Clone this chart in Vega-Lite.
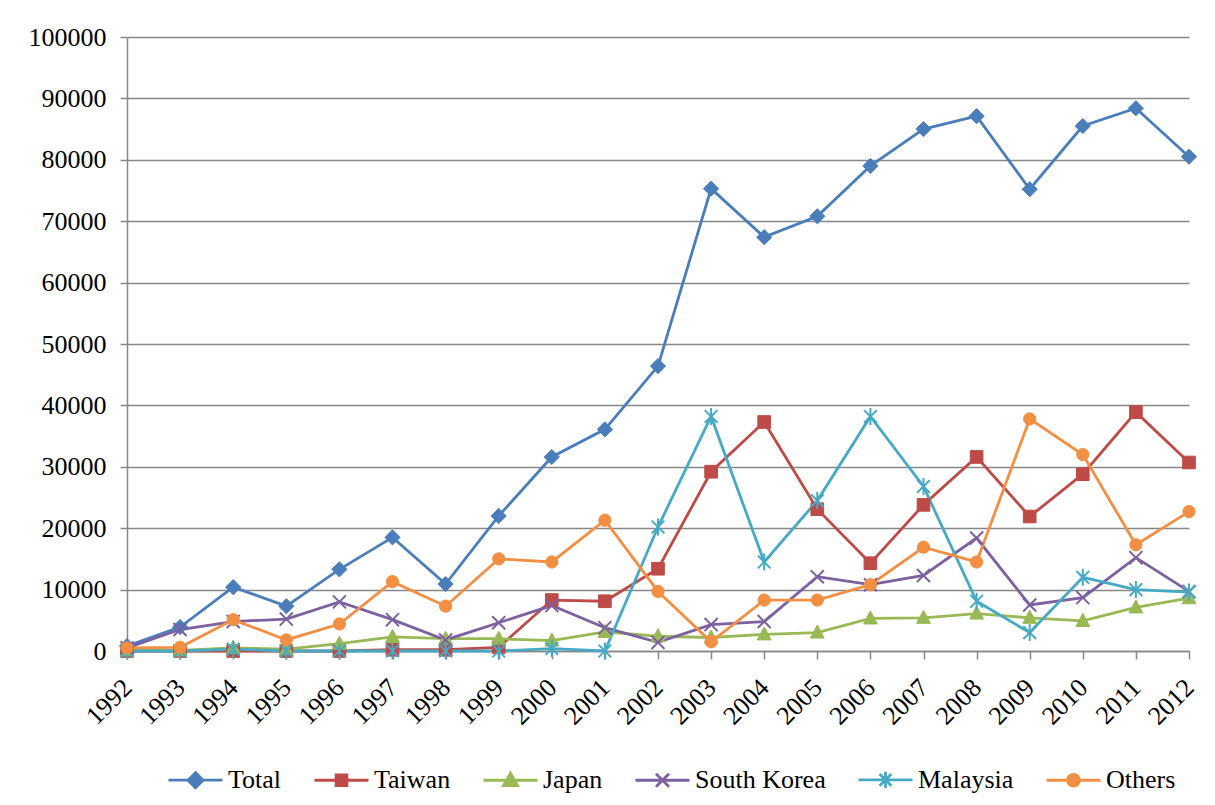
{
  "$schema": "https://vega.github.io/schema/vega-lite/v6.json",
  "width": 1062,
  "height": 614,
  "autosize": {"type": "none"},
  "padding": {"left": 127, "top": 37, "right": 26, "bottom": 154},
  "background": "white",
  "config": {
    "font": "Liberation Serif",
    "view": {"stroke": null},
    "axis": {
      "labelFont": "Liberation Serif",
      "labelFontSize": 26,
      "labelColor": "#000000",
      "domainColor": "#878787",
      "domainWidth": 1.5,
      "tickColor": "#878787",
      "tickWidth": 1.5,
      "gridColor": "#878787",
      "gridWidth": 1.5,
      "title": null
    },
    "legend": {
      "labelFont": "Liberation Serif",
      "labelFontSize": 26,
      "labelColor": "#000000"
    }
  },
  "data": {
    "values": [
      {"year": "1992", "series": "Total", "value": 800},
      {"year": "1993", "series": "Total", "value": 3900},
      {"year": "1994", "series": "Total", "value": 10400},
      {"year": "1995", "series": "Total", "value": 7300},
      {"year": "1996", "series": "Total", "value": 13300},
      {"year": "1997", "series": "Total", "value": 18500},
      {"year": "1998", "series": "Total", "value": 10900},
      {"year": "1999", "series": "Total", "value": 22000},
      {"year": "2000", "series": "Total", "value": 31600},
      {"year": "2001", "series": "Total", "value": 36100},
      {"year": "2002", "series": "Total", "value": 46400},
      {"year": "2003", "series": "Total", "value": 75300},
      {"year": "2004", "series": "Total", "value": 67400},
      {"year": "2005", "series": "Total", "value": 70800},
      {"year": "2006", "series": "Total", "value": 79000},
      {"year": "2007", "series": "Total", "value": 85000},
      {"year": "2008", "series": "Total", "value": 87100},
      {"year": "2009", "series": "Total", "value": 75200},
      {"year": "2010", "series": "Total", "value": 85500},
      {"year": "2011", "series": "Total", "value": 88400},
      {"year": "2012", "series": "Total", "value": 80500},
      {"year": "1992", "series": "Taiwan", "value": 0},
      {"year": "1993", "series": "Taiwan", "value": 0},
      {"year": "1994", "series": "Taiwan", "value": 0},
      {"year": "1995", "series": "Taiwan", "value": 0},
      {"year": "1996", "series": "Taiwan", "value": 0},
      {"year": "1997", "series": "Taiwan", "value": 200},
      {"year": "1998", "series": "Taiwan", "value": 200},
      {"year": "1999", "series": "Taiwan", "value": 600},
      {"year": "2000", "series": "Taiwan", "value": 8300},
      {"year": "2001", "series": "Taiwan", "value": 8100},
      {"year": "2002", "series": "Taiwan", "value": 13400},
      {"year": "2003", "series": "Taiwan", "value": 29200},
      {"year": "2004", "series": "Taiwan", "value": 37300},
      {"year": "2005", "series": "Taiwan", "value": 23100},
      {"year": "2006", "series": "Taiwan", "value": 14300},
      {"year": "2007", "series": "Taiwan", "value": 23800},
      {"year": "2008", "series": "Taiwan", "value": 31600},
      {"year": "2009", "series": "Taiwan", "value": 21900},
      {"year": "2010", "series": "Taiwan", "value": 28800},
      {"year": "2011", "series": "Taiwan", "value": 38900},
      {"year": "2012", "series": "Taiwan", "value": 30700},
      {"year": "1992", "series": "Japan", "value": 100},
      {"year": "1993", "series": "Japan", "value": 100},
      {"year": "1994", "series": "Japan", "value": 500},
      {"year": "1995", "series": "Japan", "value": 300},
      {"year": "1996", "series": "Japan", "value": 1200},
      {"year": "1997", "series": "Japan", "value": 2300},
      {"year": "1998", "series": "Japan", "value": 2000},
      {"year": "1999", "series": "Japan", "value": 2000},
      {"year": "2000", "series": "Japan", "value": 1700},
      {"year": "2001", "series": "Japan", "value": 3100},
      {"year": "2002", "series": "Japan", "value": 2400},
      {"year": "2003", "series": "Japan", "value": 2200},
      {"year": "2004", "series": "Japan", "value": 2700},
      {"year": "2005", "series": "Japan", "value": 3000},
      {"year": "2006", "series": "Japan", "value": 5300},
      {"year": "2007", "series": "Japan", "value": 5400},
      {"year": "2008", "series": "Japan", "value": 6100},
      {"year": "2009", "series": "Japan", "value": 5400},
      {"year": "2010", "series": "Japan", "value": 4900},
      {"year": "2011", "series": "Japan", "value": 7100},
      {"year": "2012", "series": "Japan", "value": 8600},
      {"year": "1992", "series": "South Korea", "value": 500},
      {"year": "1993", "series": "South Korea", "value": 3500},
      {"year": "1994", "series": "South Korea", "value": 4800},
      {"year": "1995", "series": "South Korea", "value": 5200},
      {"year": "1996", "series": "South Korea", "value": 8000},
      {"year": "1997", "series": "South Korea", "value": 5100},
      {"year": "1998", "series": "South Korea", "value": 1800},
      {"year": "1999", "series": "South Korea", "value": 4600},
      {"year": "2000", "series": "South Korea", "value": 7400},
      {"year": "2001", "series": "South Korea", "value": 3800},
      {"year": "2002", "series": "South Korea", "value": 1400},
      {"year": "2003", "series": "South Korea", "value": 4300},
      {"year": "2004", "series": "South Korea", "value": 4800},
      {"year": "2005", "series": "South Korea", "value": 12100},
      {"year": "2006", "series": "South Korea", "value": 10800},
      {"year": "2007", "series": "South Korea", "value": 12300},
      {"year": "2008", "series": "South Korea", "value": 18400},
      {"year": "2009", "series": "South Korea", "value": 7500},
      {"year": "2010", "series": "South Korea", "value": 8700},
      {"year": "2011", "series": "South Korea", "value": 15200},
      {"year": "2012", "series": "South Korea", "value": 9700},
      {"year": "1992", "series": "Malaysia", "value": 0},
      {"year": "1993", "series": "Malaysia", "value": 0},
      {"year": "1994", "series": "Malaysia", "value": 300},
      {"year": "1995", "series": "Malaysia", "value": 0},
      {"year": "1996", "series": "Malaysia", "value": 0},
      {"year": "1997", "series": "Malaysia", "value": 0},
      {"year": "1998", "series": "Malaysia", "value": 0},
      {"year": "1999", "series": "Malaysia", "value": 0},
      {"year": "2000", "series": "Malaysia", "value": 400},
      {"year": "2001", "series": "Malaysia", "value": 0},
      {"year": "2002", "series": "Malaysia", "value": 20200},
      {"year": "2003", "series": "Malaysia", "value": 38200},
      {"year": "2004", "series": "Malaysia", "value": 14500},
      {"year": "2005", "series": "Malaysia", "value": 24500},
      {"year": "2006", "series": "Malaysia", "value": 38200},
      {"year": "2007", "series": "Malaysia", "value": 26800},
      {"year": "2008", "series": "Malaysia", "value": 8100},
      {"year": "2009", "series": "Malaysia", "value": 3000},
      {"year": "2010", "series": "Malaysia", "value": 12000},
      {"year": "2011", "series": "Malaysia", "value": 10000},
      {"year": "2012", "series": "Malaysia", "value": 9600},
      {"year": "1992", "series": "Others", "value": 500},
      {"year": "1993", "series": "Others", "value": 600},
      {"year": "1994", "series": "Others", "value": 5100},
      {"year": "1995", "series": "Others", "value": 1800},
      {"year": "1996", "series": "Others", "value": 4400},
      {"year": "1997", "series": "Others", "value": 11300},
      {"year": "1998", "series": "Others", "value": 7300},
      {"year": "1999", "series": "Others", "value": 15000},
      {"year": "2000", "series": "Others", "value": 14500},
      {"year": "2001", "series": "Others", "value": 21300},
      {"year": "2002", "series": "Others", "value": 9700},
      {"year": "2003", "series": "Others", "value": 1500},
      {"year": "2004", "series": "Others", "value": 8300},
      {"year": "2005", "series": "Others", "value": 8300},
      {"year": "2006", "series": "Others", "value": 10800},
      {"year": "2007", "series": "Others", "value": 16900},
      {"year": "2008", "series": "Others", "value": 14500},
      {"year": "2009", "series": "Others", "value": 37800},
      {"year": "2010", "series": "Others", "value": 32000},
      {"year": "2011", "series": "Others", "value": 17300},
      {"year": "2012", "series": "Others", "value": 22700}
    ]
  },
  "encoding": {
    "x": {
      "field": "year",
      "type": "ordinal",
      "scale": {"type": "point", "padding": 0},
      "axis": {"labelAngle": -45, "labelAlign": "right", "labelBaseline": "top", "tickSize": 8, "labelPadding": 15, "labelOffset": -9, "grid": false}
    },
    "y": {
      "field": "value",
      "type": "quantitative",
      "scale": {"domain": [0, 100000], "nice": false},
      "axis": {"values": [0, 10000, 20000, 30000, 40000, 50000, 60000, 70000, 80000, 90000, 100000], "format": "d", "tickSize": 7, "labelPadding": 14, "grid": true}
    }
  },
  "layer": [
    {
      "mark": {"type": "line", "strokeWidth": 2.8},
      "encoding": {
        "color": {
          "field": "series",
          "type": "nominal",
          "scale": {
            "domain": ["Total", "Taiwan", "Japan", "South Korea", "Malaysia", "Others"],
            "range": ["#4A7EBB", "#BE4B48", "#98B954", "#7D60A0", "#46AAC5", "#F38F43"]
          },
          "legend": {
            "title": null,
            "orient": "none",
            "legendX": 40,
            "legendY": 714,
            "direction": "horizontal",
            "symbolSize": 2916,
            "columnPadding": 26,
            "labelOffset": 4,
            "padding": 0,
            "encode": {
              "symbols": {
                "update": {
                  "shape": {"signal": "datum.value=='Total'?'M-1,0L1,0M0,-0.28L0.28,0L0,0.28L-0.28,0Z':datum.value=='Taiwan'?'M-1,0L1,0M-0.2,-0.2L0.2,-0.2L0.2,0.2L-0.2,0.2Z':datum.value=='Japan'?'M-1,0L1,0M0,-0.26L0.26,0.2L-0.26,0.2Z':datum.value=='South Korea'?'M-1,0L1,0M-0.24,-0.24L0.24,0.24M0.24,-0.24L-0.24,0.24':datum.value=='Malaysia'?'M-1,0L1,0M-0.22,-0.22L0.22,0.22M0.22,-0.22L-0.22,0.22M0,-0.3L0,0.3':'M-1,0L1,0M-0.22,0A0.22,0.22 0 1,0 0.22,0A0.22,0.22 0 1,0 -0.22,0Z'"},
                  "fill": {"scale": "color", "field": "value"},
                  "stroke": {"scale": "color", "field": "value"},
                  "strokeWidth": {"value": 2.8},
                  "opacity": {"value": 1}
                }
              }
            }
          }
        }
      }
    },
    {
      "transform": [{"filter": "datum.series == 'Total'"}],
      "mark": {"type": "point", "shape": "diamond", "filled": true, "opacity": 1, "fill": "#4A7EBB", "stroke": "#4A7EBB", "strokeWidth": 1, "size": 230}
    },
    {
      "transform": [{"filter": "datum.series == 'Taiwan'"}],
      "mark": {"type": "point", "shape": "square", "filled": true, "opacity": 1, "fill": "#BE4B48", "stroke": "#BE4B48", "strokeWidth": 1, "size": 160}
    },
    {
      "transform": [{"filter": "datum.series == 'Japan'"}],
      "mark": {"type": "point", "shape": "M0,-1.1L1,0.8L-1,0.8Z", "filled": true, "opacity": 1, "fill": "#98B954", "stroke": "#98B954", "strokeWidth": 1, "size": 190}
    },
    {
      "transform": [{"filter": "datum.series == 'South Korea'"}],
      "mark": {"type": "point", "shape": "M-1,-1L1,1M1,-1L-1,1", "filled": false, "opacity": 1, "stroke": "#7D60A0", "strokeWidth": 2, "size": 170}
    },
    {
      "transform": [{"filter": "datum.series == 'Malaysia'"}],
      "mark": {"type": "point", "shape": "M-0.9,-0.9L0.9,0.9M0.9,-0.9L-0.9,0.9M0,-1.2L0,1.2", "filled": false, "opacity": 1, "stroke": "#46AAC5", "strokeWidth": 2, "size": 200}
    },
    {
      "transform": [{"filter": "datum.series == 'Others'"}],
      "mark": {"type": "point", "shape": "circle", "filled": true, "opacity": 1, "fill": "#F38F43", "stroke": "#F38F43", "strokeWidth": 1, "size": 150}
    }
  ]
}
